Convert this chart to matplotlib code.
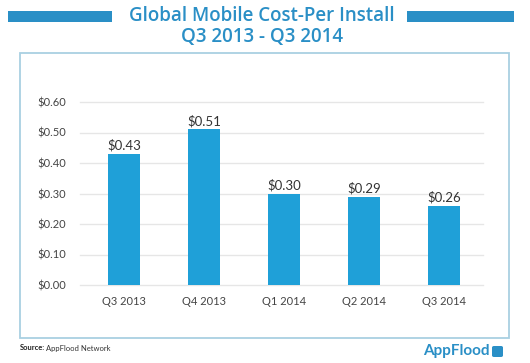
import matplotlib
matplotlib.use("Agg")
import matplotlib.pyplot as plt
from matplotlib.patches import Rectangle, FancyBboxPatch

categories = ["Q3 2013", "Q4 2013", "Q1 2014", "Q2 2014", "Q3 2014"]
values = [0.43, 0.51, 0.30, 0.29, 0.26]
value_labels = ["$0.43", "$0.51", "$0.30", "$0.29", "$0.26"]
yticks = [0.0, 0.1, 0.2, 0.3, 0.4, 0.5, 0.6]
ytick_labels = ["$0.00", "$0.10", "$0.20", "$0.30", "$0.40", "$0.50", "$0.60"]

plt.rcParams['font.family'] = ['Lato', 'DejaVu Sans']
BLUE = "#1fa0d8"
TITLE = "#2a8fc6"
W, H = 530, 363
fig = plt.figure(figsize=(W/100, H/100), dpi=100)
fig.patch.set_facecolor("white")

# outer box
fig.patches.append(Rectangle((20/W, 1-338/H), (509-20)/W, (338-53)/H, transform=fig.transFigure,
                             fill=False, edgecolor="#a9d0e2", linewidth=1.3))
# title bars
fig.patches.append(Rectangle((8/W, 1-22/H), (112-8)/W, 11/H, transform=fig.transFigure,
                             facecolor=TITLE, edgecolor="none"))
fig.patches.append(Rectangle((407/W, 1-22/H), (514-407)/W, 11/H, transform=fig.transFigure,
                             facecolor=TITLE, edgecolor="none"))
fig.text(262/W, 1-16/H, "Global Mobile Cost-Per Install", ha="center", va="center",
         fontsize=13.5, color=TITLE, fontweight="semibold", family=["Open Sans", "DejaVu Sans"])
fig.text(262/W, 1-37/H, "Q3 2013 - Q3 2014", ha="center", va="center",
         fontsize=13.5, color=TITLE, fontweight="semibold", family=["Open Sans", "DejaVu Sans"])

ax = fig.add_axes([80/W, 1-285/H, (483-80)/W, (285-102)/H])
x = list(range(len(categories)))
ax.bar(x, values, width=0.4, color=BLUE, zorder=3)
for xi, v, lab in zip(x, values, value_labels):
    ax.text(xi, v + 0.008, lab, ha="center", va="bottom", fontsize=9.5, color="#333333")
ax.set_xlim(-0.55, 4.49)
ax.set_ylim(0, 0.6)
ax.set_yticks(yticks)
ax.set_yticklabels(ytick_labels)
ax.set_xticks(x)
ax.set_xticklabels(categories)
ax.grid(axis="y", color="#e6e6e6", linewidth=1, zorder=0)
ax.set_axisbelow(True)
for s in ax.spines.values():
    s.set_visible(False)
ax.tick_params(axis="both", length=0, labelsize=8, colors="#444444")
ax.tick_params(axis="y", pad=10)
ax.tick_params(axis="x", pad=8)
for gl in ax.get_ygridlines():
    gl.set_clip_on(False)

fig.text(20/W, 1-348/H, "Source:", ha="left", va="center", fontsize=5.5, fontweight="bold", color="#222222")
fig.text(46/W, 1-348/H, "AppFlood Network", ha="left", va="center", fontsize=5.5, color="#333333")
fig.text(490/W, 1-351/H, "AppFlood", ha="right", va="center", fontsize=11, fontweight="bold", color=TITLE)
fig.patches.append(FancyBboxPatch((492/W, 1-357/H), 11/W, 11/H, boxstyle="round,pad=0,rounding_size=0.004",
                                  transform=fig.transFigure, facecolor=TITLE, edgecolor="none"))

fig.savefig("out.png", dpi=100, facecolor="white")
